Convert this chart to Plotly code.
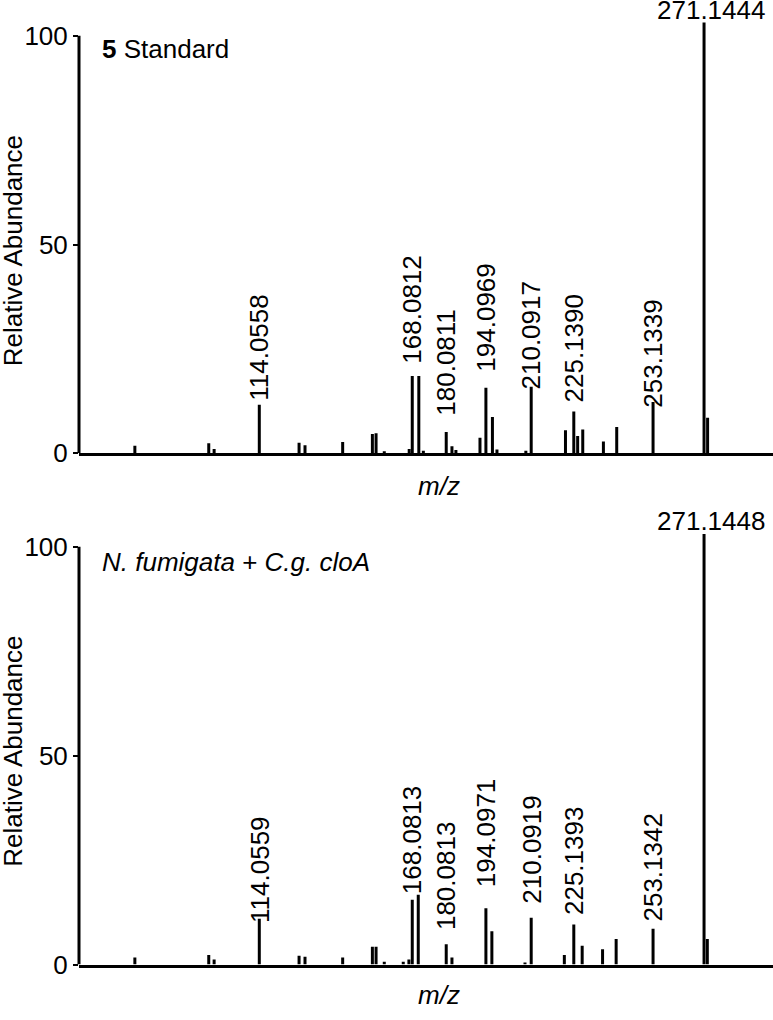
import plotly.graph_objects as go

# ---------------- data ----------------
# Panel 1: compound 5 standard (MS/MS stick spectrum)
std_mz = [70.1, 96.2, 98.1, 114.0558, 128.1, 130.2, 143.5, 154.0, 155.3, 158.2,
          167.0, 168.0812, 170.4, 172.0, 180.0811, 182.1, 183.5, 192.0, 194.0969,
          196.4, 198.0, 208.2, 210.0917, 222.2, 225.139, 226.5, 228.3, 235.6,
          240.3, 253.1339, 271.1444, 272.4]
std_int = [1.8, 2.4, 1.0, 11.6, 2.5, 1.9, 2.7, 4.6, 4.8, 0.5,
           1.0, 18.5, 18.5, 0.6, 5.1, 1.7, 0.8, 3.7, 15.7,
           8.7, 0.9, 0.6, 15.9, 5.5, 10.0, 4.1, 5.7, 2.8,
           6.3, 12.3, 103.2, 8.5]
std_labels = ["114.0558", "168.0812", "180.0811", "194.0969", "210.0917",
              "225.1390", "253.1339"]
std_base_label = "271.1444"

# Panel 2: N. fumigata + C.g. cloA extract
ext_mz = [70.1, 96.2, 98.1, 114.0559, 128.1, 130.2, 143.5, 154.0, 155.3, 158.2,
          164.9, 166.9, 168.0813, 170.2, 180.0813, 182.1, 194.0971, 196.2,
          207.9, 210.0919, 221.8, 225.1393, 228.1, 235.3, 240.1, 253.1342,
          271.1448, 272.3]
ext_int = [1.7, 2.3, 1.2, 11.0, 2.1, 1.9, 1.7, 4.3, 4.3, 0.7,
           0.7, 1.2, 15.5, 16.7, 4.9, 1.7, 13.5, 8.0,
           0.5, 11.2, 2.3, 9.6, 4.5, 3.7, 6.1, 8.6,
           103.1, 6.1]
ext_labels = ["114.0559", "168.0813", "180.0813", "194.0971", "210.0919",
              "225.1393", "253.1342"]
ext_base_label = "271.1448"

y_ticks = [0, 50, 100]
x_range = [50.37, 295.5]

# ---------------- layout helpers ----------------
W, H = 773, 1020
FONT = "Liberation Sans, Arial, Helvetica, sans-serif"
FS = 26


def px(x):
    return x / W


def py(y):
    return 1 - y / H


def sticks(mz, inten):
    xs, ys = [], []
    for m, h in zip(mz, inten):
        xs += [m, m, None]
        ys += [0, h, None]
    return xs, ys


Y_MAX = 104
AX_LEFT = 79
panels = [
    dict(mz=std_mz, inten=std_int, labels=std_labels, base=std_base_label,
         lab_lv=[14.2, 23.2, 10.6, 21.2, 17.0, 13.8, 12.6],
         title="<b>5</b> Standard", y0=460, unit=4.236, title_y=50,
         ylab_y=255, mz_y=493, xa="x", ya="y"),
    dict(mz=ext_mz, inten=ext_int, labels=ext_labels, base=ext_base_label,
         lab_lv=[11.6, 18.6, 10.0, 20.2, 16.3, 13.5, 12.0],
         title="<i>N. fumigata</i> + <i>C.g. cloA</i>", y0=979, unit=4.24,
         title_y=570, ylab_y=763, mz_y=1010, xa="x2", ya="y2"),
]

fig = go.Figure()
annotations = []
shapes = []
layout_axes = {}

for i, p in enumerate(panels):
    xs, ys = sticks(p["mz"], p["inten"])
    fig.add_trace(go.Scatter(x=xs, y=ys, mode="lines",
                             line=dict(color="black", width=3),
                             xaxis=p["xa"], yaxis=p["ya"],
                             hoverinfo="skip", showlegend=False))
    top_px = p["y0"] - Y_MAX * p["unit"]
    xkey = "xaxis" if i == 0 else "xaxis2"
    ykey = "yaxis" if i == 0 else "yaxis2"
    layout_axes[xkey] = dict(domain=[px(AX_LEFT), 1], range=x_range,
                             anchor=p["ya"], showline=True, linecolor="black",
                             linewidth=3, showticklabels=False, ticks="",
                             showgrid=False, zeroline=False, fixedrange=True)
    layout_axes[ykey] = dict(domain=[py(p["y0"]), py(top_px)], range=[0, Y_MAX],
                             anchor=p["xa"], showline=False, showgrid=False,
                             zeroline=False, tickvals=y_ticks,
                             ticktext=[str(v) for v in y_ticks],
                             ticks="outside", ticklen=5, tickwidth=2,
                             tickcolor="black",
                             tickfont=dict(family=FONT, size=FS, color="black"),
                             fixedrange=True)
    shapes.append(dict(type="line", xref=f"{p['xa']} domain", x0=0, x1=0,
                       yref=p["ya"], y0=0, y1=100,
                       line=dict(color="black", width=3)))
    for lab, lv in zip(p["labels"], p["lab_lv"]):
        annotations.append(dict(x=float(lab), y=lv, xref=p["xa"], yref=p["ya"],
                                text=lab, showarrow=False, textangle=-90,
                                xanchor="center", yanchor="bottom", yshift=-9,
                                font=dict(family=FONT, size=FS, color="black")))
    bmz = float(p["base"])
    bh = max(h for m, h in zip(p["mz"], p["inten"]) if abs(m - bmz) < 0.5)
    annotations.append(dict(x=bmz, y=bh, xref=p["xa"], yref=p["ya"],
                            text=p["base"], showarrow=False, xanchor="center",
                            yanchor="bottom", xshift=7, yshift=-4,
                            font=dict(family=FONT, size=FS, color="black")))
    annotations.append(dict(x=px(100), y=py(p["title_y"]), xref="paper",
                            yref="paper", text=p["title"], showarrow=False,
                            xanchor="left", yanchor="middle",
                            font=dict(family=FONT, size=FS, color="black")))
    annotations.append(dict(x=px(13), y=py(p["ylab_y"]), xref="paper",
                            yref="paper", text="Relative Abundance",
                            showarrow=False, textangle=-90,
                            xanchor="center", yanchor="middle",
                            font=dict(family=FONT, size=FS, color="black")))
    annotations.append(dict(x=px(439), y=py(p["mz_y"]), xref="paper",
                            yref="paper", text="<i>m/z</i>", showarrow=False,
                            xanchor="center", yanchor="middle",
                            font=dict(family=FONT, size=FS, color="black")))

fig.update_layout(width=W, height=H, margin=dict(l=0, r=0, t=0, b=0),
                  paper_bgcolor="white", plot_bgcolor="white",
                  annotations=annotations, shapes=shapes,
                  font=dict(family=FONT, size=FS, color="black"),
                  **layout_axes)

fig.write_html("out.html", config={"displayModeBar": False},
               post_script="document.body.style.margin='0px';"
                           "document.body.style.overflow='hidden';")
